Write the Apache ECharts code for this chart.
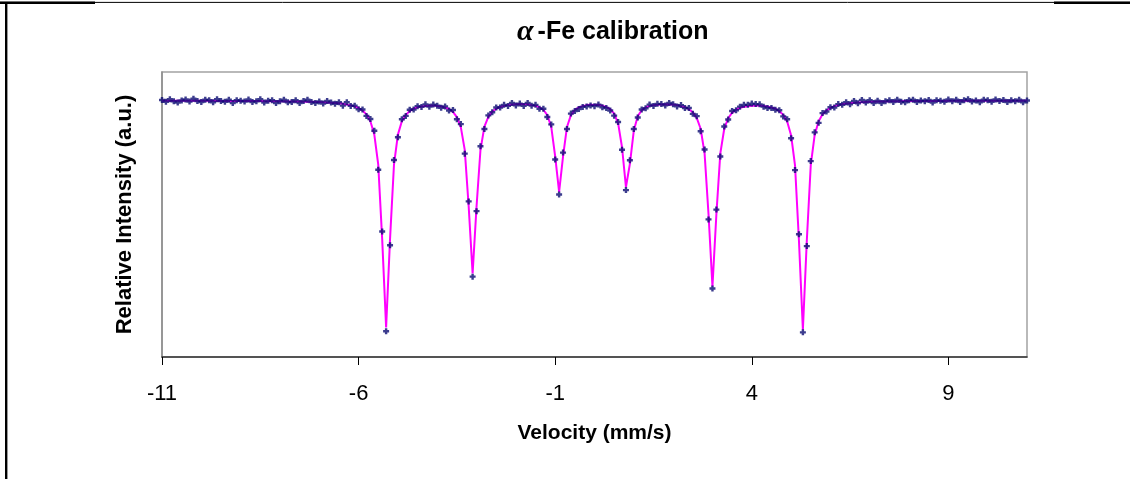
<!DOCTYPE html>
<html>
<head>
<meta charset="utf-8">
<script src="https://cdn.jsdelivr.net/npm/echarts@6/dist/echarts.min.js"></script>
<style>html,body{margin:0;padding:0;background:#fff;}#chart{width:1130px;height:479px;}</style>
</head>
<body>
<div id="chart"></div>
<script>
// Velocity channels (mm/s)
const velocity = [
-11.0,-10.9,-10.8,-10.7,-10.6,-10.5,-10.4,-10.3,-10.2,-10.1,
-10.0,-9.9,-9.8,-9.7,-9.6,-9.5,-9.4,-9.3,-9.2,-9.1,
-9.0,-8.9,-8.8,-8.7,-8.6,-8.5,-8.4,-8.3,-8.2,-8.1,
-8.0,-7.9,-7.8,-7.7,-7.6,-7.5,-7.4,-7.3,-7.2,-7.1,
-7.0,-6.9,-6.8,-6.7,-6.6,-6.5,-6.4,-6.3,-6.2,-6.1,
-6.0,-5.9,-5.8,-5.7,-5.6,-5.5,-5.4,-5.3,-5.2,-5.1,
-5.0,-4.9,-4.8,-4.7,-4.6,-4.5,-4.4,-4.3,-4.2,-4.1,
-4.0,-3.9,-3.8,-3.7,-3.6,-3.5,-3.4,-3.3,-3.2,-3.1,
-3.0,-2.9,-2.8,-2.7,-2.6,-2.5,-2.4,-2.3,-2.2,-2.1,
-2.0,-1.9,-1.8,-1.7,-1.6,-1.5,-1.4,-1.3,-1.2,-1.1,
-1.0,-0.9,-0.8,-0.7,-0.6,-0.5,-0.4,-0.3,-0.2,-0.1,
0.0,0.1,0.2,0.3,0.4,0.5,0.6,0.7,0.8,0.9,
1.0,1.1,1.2,1.3,1.4,1.5,1.6,1.7,1.8,1.9,
2.0,2.1,2.2,2.3,2.4,2.5,2.6,2.7,2.8,2.9,
3.0,3.1,3.2,3.3,3.4,3.5,3.6,3.7,3.8,3.9,
4.0,4.1,4.2,4.3,4.4,4.5,4.6,4.7,4.8,4.9,
5.0,5.1,5.2,5.3,5.4,5.5,5.6,5.7,5.8,5.9,
6.0,6.1,6.2,6.3,6.4,6.5,6.6,6.7,6.8,6.9,
7.0,7.1,7.2,7.3,7.4,7.5,7.6,7.7,7.8,7.9,
8.0,8.1,8.2,8.3,8.4,8.5,8.6,8.7,8.8,8.9,
9.0,9.1,9.2,9.3,9.4,9.5,9.6,9.7,9.8,9.9,
10.0,10.1,10.2,10.3,10.4,10.5,10.6,10.7,10.8,10.9,
11.0
];

// Measured relative intensity (data points)
const measured = [
1.0001,0.9994,1.0004,0.9996,0.9991,0.9999,1.0003,0.9995,1.0006,0.9997,
0.9993,1.0002,1.0000,0.9992,1.0004,0.9997,0.9994,1.0002,0.9989,1.0000,
0.9998,0.9995,1.0003,0.9993,0.9996,1.0004,0.9991,0.9998,1.0000,0.9989,
0.9996,1.0002,0.9992,0.9993,1.0000,0.9989,0.9997,1.0002,0.9993,0.9989,
0.9995,0.9987,0.9997,0.9991,0.9986,0.9992,0.9979,0.9992,0.9978,0.9979,
0.9965,0.9964,0.9939,0.9927,0.9881,0.9729,0.9489,0.9100,0.9435,0.9767,
0.9856,0.9926,0.9939,0.9963,0.9964,0.9977,0.9974,0.9984,0.9975,0.9983,
0.9979,0.9971,0.9976,0.9960,0.9962,0.9926,0.9907,0.9792,0.9606,0.9313,
0.9568,0.9821,0.9888,0.9941,0.9953,0.9972,0.9972,0.9982,0.9978,0.9989,
0.9980,0.9987,0.9978,0.9989,0.9979,0.9982,0.9967,0.9967,0.9935,0.9906,
0.9769,0.9633,0.9796,0.9888,0.9948,0.9958,0.9966,0.9974,0.9976,0.9980,
0.9977,0.9983,0.9973,0.9970,0.9960,0.9940,0.9915,0.9807,0.9650,0.9766,
0.9888,0.9933,0.9964,0.9969,0.9983,0.9978,0.9986,0.9985,0.9980,0.9989,
0.9984,0.9976,0.9981,0.9970,0.9970,0.9947,0.9938,0.9879,0.9808,0.9536,
0.9267,0.9574,0.9781,0.9898,0.9925,0.9958,0.9961,0.9975,0.9982,0.9982,
0.9987,0.9985,0.9984,0.9975,0.9970,0.9970,0.9963,0.9961,0.9937,0.9926,
0.9852,0.9728,0.9478,0.9096,0.9432,0.9763,0.9875,0.9912,0.9950,0.9956,
0.9973,0.9972,0.9985,0.9982,0.9992,0.9984,0.9997,0.9988,1.0001,0.9991,
1.0000,0.9989,0.9998,0.9989,0.9996,1.0000,0.9993,1.0002,0.9994,0.9992,
1.0000,1.0002,0.9993,0.9999,0.9996,1.0001,0.9991,1.0000,0.9998,0.9994,
1.0003,0.9996,1.0002,0.9993,1.0000,1.0004,0.9995,0.9999,0.9992,1.0002,
1.0000,0.9994,1.0003,0.9997,1.0001,0.9993,1.0000,0.9996,1.0002,0.9992,
0.9999
];

// Fitted sextet curve
const fitted = [
0.9998,0.9998,0.9998,0.9998,0.9998,0.9998,0.9998,0.9998,0.9998,0.9998,
0.9998,0.9998,0.9998,0.9998,0.9997,0.9997,0.9997,0.9997,0.9997,0.9997,
0.9997,0.9997,0.9997,0.9997,0.9997,0.9997,0.9996,0.9996,0.9996,0.9996,
0.9996,0.9996,0.9995,0.9995,0.9995,0.9995,0.9994,0.9994,0.9994,0.9993,
0.9993,0.9992,0.9991,0.9990,0.9989,0.9988,0.9986,0.9983,0.9980,0.9976,
0.9970,0.9960,0.9945,0.9918,0.9866,0.9749,0.9459,0.9115,0.9460,0.9749,
0.9866,0.9918,0.9943,0.9958,0.9967,0.9973,0.9976,0.9978,0.9979,0.9980,
0.9978,0.9976,0.9972,0.9966,0.9955,0.9934,0.9895,0.9807,0.9586,0.9325,
0.9586,0.9807,0.9897,0.9935,0.9956,0.9967,0.9974,0.9978,0.9981,0.9983,
0.9984,0.9985,0.9984,0.9984,0.9981,0.9979,0.9972,0.9963,0.9942,0.9896,
0.9781,0.9643,0.9781,0.9896,0.9942,0.9962,0.9972,0.9977,0.9981,0.9982,
0.9981,0.9982,0.9979,0.9973,0.9965,0.9948,0.9911,0.9817,0.9662,0.9752,
0.9882,0.9938,0.9961,0.9971,0.9978,0.9981,0.9982,0.9983,0.9984,0.9983,
0.9983,0.9981,0.9977,0.9973,0.9965,0.9953,0.9931,0.9889,0.9793,0.9556,
0.9275,0.9556,0.9793,0.9889,0.9930,0.9952,0.9963,0.9971,0.9975,0.9977,
0.9979,0.9979,0.9980,0.9978,0.9975,0.9972,0.9967,0.9958,0.9943,0.9917,
0.9864,0.9746,0.9453,0.9106,0.9454,0.9747,0.9865,0.9918,0.9945,0.9960,
0.9970,0.9977,0.9981,0.9984,0.9987,0.9988,0.9990,0.9991,0.9992,0.9993,
0.9994,0.9994,0.9995,0.9995,0.9995,0.9996,0.9996,0.9996,0.9996,0.9997,
0.9997,0.9997,0.9997,0.9997,0.9997,0.9997,0.9997,0.9997,0.9997,0.9997,
0.9998,0.9998,0.9998,0.9998,0.9998,0.9998,0.9998,0.9998,0.9998,0.9998,
0.9998,0.9998,0.9998,0.9998,0.9998,0.9998,0.9998,0.9998,0.9998,0.9998,
0.9998
];

const xTickValues = [-11, -6, -1, 4, 9];

const measuredPairs = velocity.map((v, i) => [v, measured[i]]);
const fittedPairs = velocity.map((v, i) => [v, fitted[i]]);

const chart = echarts.init(document.getElementById('chart'), null, {renderer: 'canvas'});
chart.setOption({
  backgroundColor: '#ffffff',
  animation: false,
  title: {
    text: '{a|α}{b|-Fe calibration}',
    left: 512,
    top: 12,
    textStyle: {
      rich: {
        a: {fontFamily: 'Liberation Serif', fontStyle: 'italic', fontSize: 30, color: '#000', padding: [0, 4, 0, 0]},
        b: {fontFamily: 'Liberation Sans', fontWeight: 'bold', fontSize: 25, color: '#000'}
      }
    }
  },
  graphic: [
    {type: 'line', shape: {x1: 6.2, y1: 2, x2: 6.2, y2: 479}, style: {stroke: '#000', lineWidth: 2.4}},
    {type: 'line', shape: {x1: 0, y1: 2.4, x2: 1130, y2: 2.4}, style: {stroke: '#000', lineWidth: 1}},
    {type: 'line', shape: {x1: 0, y1: 2.8, x2: 95, y2: 2.8}, style: {stroke: '#000', lineWidth: 2.4}},
    {type: 'line', shape: {x1: 1054, y1: 2.8, x2: 1130, y2: 2.8}, style: {stroke: '#000', lineWidth: 2.4}}
  ],
  grid: {
    left: 162, top: 72, width: 865, height: 285,
    show: true, borderColor: '#a3a3a3', borderWidth: 1.5, backgroundColor: '#fff'
  },
  xAxis: {
    type: 'value', min: -11, max: 11, interval: 5,
    axisLine: {show: true, onZero: false, lineStyle: {color: '#333', width: 1.5}},
    axisTick: {show: true, inside: false, length: 8, customValues: xTickValues, lineStyle: {color: '#000', width: 1}},
    axisLabel: {
      customValues: xTickValues, margin: 26, color: '#000',
      fontFamily: 'Liberation Sans, Arial, sans-serif', fontSize: 22
    },
    splitLine: {show: false},
    name: 'Velocity (mm/s)', nameLocation: 'middle', nameGap: 66,
    nameTextStyle: {fontFamily: 'Liberation Sans', fontWeight: 'bold', fontSize: 21, color: '#000'}
  },
  yAxis: {
    type: 'value', min: 0.9, max: 1.011,
    axisLine: {show: true, onZero: false, lineStyle: {color: '#8c8c8c', width: 1.5}},
    axisTick: {show: false},
    axisLabel: {show: false},
    splitLine: {show: false},
    name: 'Relative Intensity (a.u.)', nameLocation: 'middle', nameGap: 26,
    nameTextStyle: {fontFamily: 'Liberation Sans', fontWeight: 'bold', fontSize: 22, color: '#000'}
  },
  series: [
    {
      name: 'Fit', type: 'line', data: fittedPairs, symbol: 'none', z: 2,
      lineStyle: {color: '#ff00ff', width: 2}
    },
    {
      name: 'Data', type: 'scatter', data: measuredPairs, z: 3,
      symbol: 'path://M0,1.5H1.5V0H3.5V1.5H5V3.5H3.5V5H1.5V3.5H0Z', symbolSize: [6, 6],
      itemStyle: {color: '#0b0b72'}
    }
  ]
});
</script>
</body>
</html>
